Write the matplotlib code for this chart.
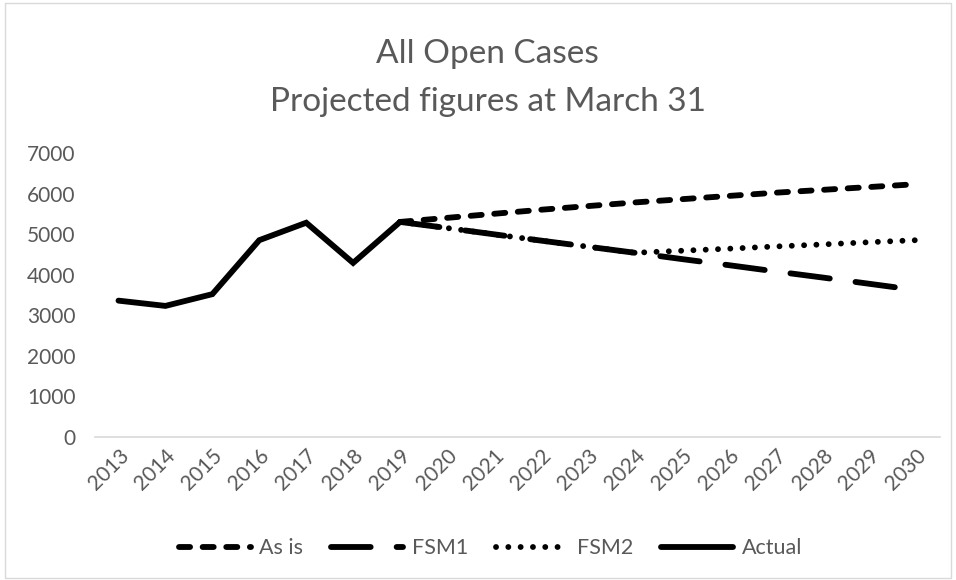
import matplotlib
matplotlib.use("Agg")
import matplotlib.pyplot as plt
from matplotlib.patches import Rectangle

years = [str(y) for y in range(2013, 2031)]
actual_years = years[:7]
actual = [3360, 3230, 3520, 4850, 5280, 4290, 5300]
proj_years = years[6:]
as_is = [5300, 5400, 5500, 5600, 5690, 5780, 5860, 5940, 6020, 6090, 6160, 6230]
fsm1 = [5300, 5150, 4995, 4840, 4690, 4540, 4385, 4235, 4080, 3930, 3775, 3620]
fsm2 = [5300, 5150, 4995, 4840, 4690, 4540, 4590, 4640, 4695, 4745, 4800, 4850]
yticks = [0, 1000, 2000, 3000, 4000, 5000, 6000, 7000]

plt.rcParams['font.family'] = ['Lato', 'DejaVu Sans']
txt = '#595959'

fig = plt.figure(figsize=(9.56, 5.8), dpi=100)
fig.patches.append(Rectangle((0.005, 0.004), 0.99, 0.99, transform=fig.transFigure,
                             fill=False, edgecolor='#D9D9D9', linewidth=1.0))
ax = fig.add_axes([0.0994, 0.2466, 0.8836, 0.4897])

idx = {y: i for i, y in enumerate(years)}
px = [idx[y] for y in proj_years]
ax_x = [idx[y] for y in actual_years]

lw = 4.2
ax.plot(px, as_is, color='black', lw=lw, dashes=(1.9, 2.15), dash_capstyle='round', label='As is')
ax.plot(px, fsm1, color='black', lw=lw, dashes=(6.8, 4.45), dash_capstyle='round', label='FSM1')
ax.plot(px, fsm2, color='black', lw=lw, dashes=(0.01, 2.1), dash_capstyle='round', label='FSM2')
ax.plot(ax_x, actual, color='black', lw=lw, solid_capstyle='round', solid_joinstyle='miter', label='Actual')

ax.set_xlim(-0.5, len(years) - 0.5)
ax.set_ylim(0, 7000)
ax.set_yticks(yticks)
ax.set_yticklabels([str(v) for v in yticks])
ax.set_xticks(range(len(years)))
ax.set_xticklabels(years, rotation=45, ha='right', va='top', rotation_mode='anchor')

for s in ['top', 'right', 'left']:
    ax.spines[s].set_visible(False)
ax.spines['bottom'].set_color('#D9D9D9')
ax.spines['bottom'].set_linewidth(1.2)
ax.tick_params(axis='both', length=0, colors=txt, labelsize=15)
ax.tick_params(axis='y', pad=14)
ax.tick_params(axis='x', pad=6)

fig.text(0.51, 0.8909, 'All Open Cases', ha='center', va='baseline', fontsize=24, color=txt)
fig.text(0.51, 0.8091, 'Projected figures at March 31', ha='center', va='baseline', fontsize=24, color=txt)

leg = fig.legend(loc='center', bbox_to_anchor=(0.513, 0.055), ncol=4, frameon=False,
                 fontsize=15.5, handlelength=3.35, columnspacing=1.3, handletextpad=0.4,
                 labelcolor=txt)

fig.savefig('out.png', dpi=100)
